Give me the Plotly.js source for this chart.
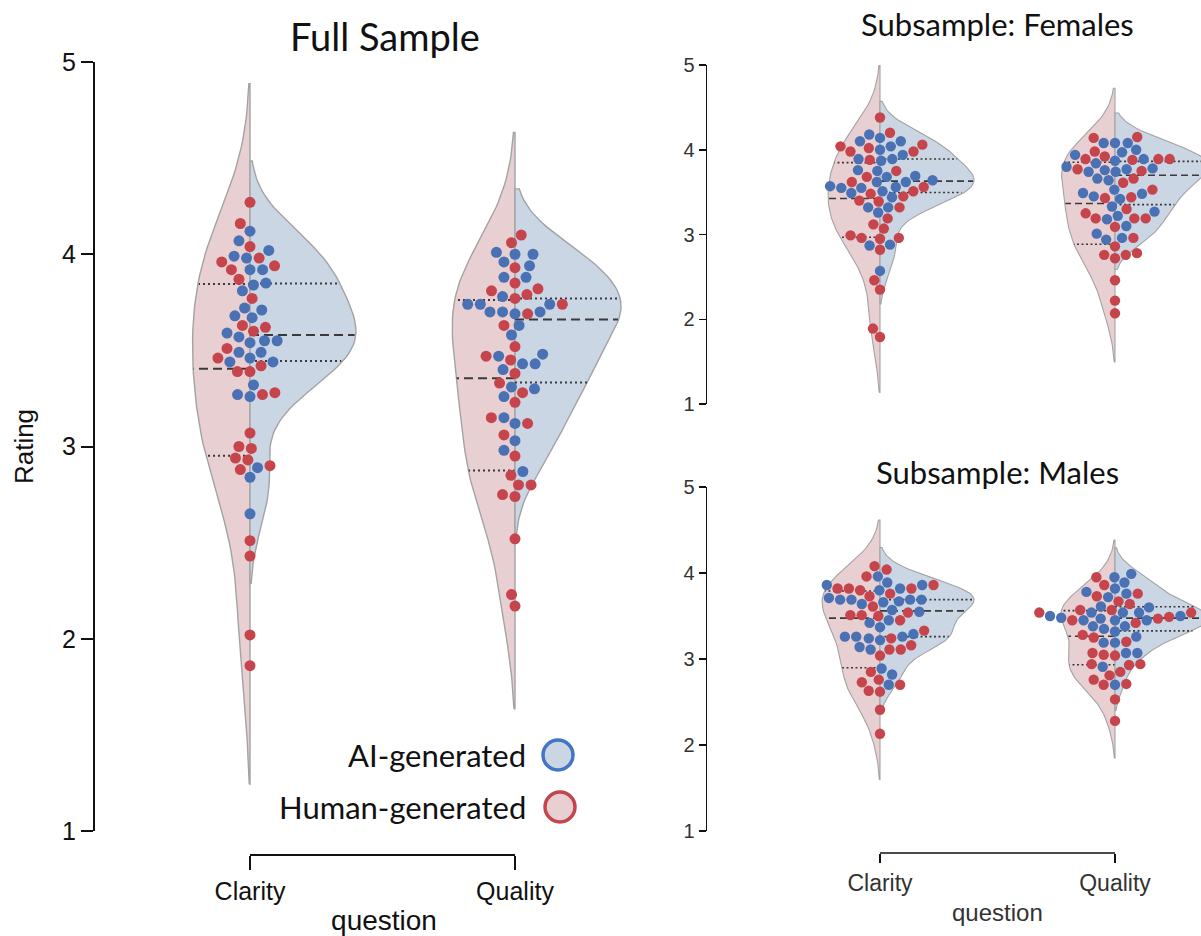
<!DOCTYPE html>
<html><head><meta charset="utf-8">
<script src="https://cdn.plot.ly/plotly-3.0.1.min.js"></script>
<style>html,body{margin:0;padding:0;background:#fff}</style>
</head><body><div id="chart" style="width:1201px;height:936px"></div>
<script>
// ---------------- DATA ----------------
const categories = ['Clarity', 'Quality'];
const hueLabels = ['AI-generated', 'Human-generated'];
const yTickVals = [1, 2, 3, 4, 5];
const panelTitles = ['Full Sample', 'Subsample: Females', 'Subsample: Males'];
const xTitle = 'question';
const yTitle = 'Rating';

// Full sample
const fullClarityAI = [4.12,4.07,4.02,3.99,3.98,3.92,3.92,3.85,3.84,3.81,3.72,3.71,3.68,3.67,3.59,3.57,3.55,3.55,3.54,3.49,3.49,3.46,3.44,3.44,3.32,3.27,3.26,2.89,2.84,2.65];
const fullClarityHuman = [4.27,4.16,4.04,3.98,3.96,3.94,3.92,3.87,3.77,3.63,3.62,3.60,3.51,3.46,3.42,3.39,3.39,3.28,3.27,3.07,3.00,2.99,2.94,2.93,2.90,2.88,2.51,2.43,2.02,1.86];
const fullQualityAI = [4.01,4.00,4.00,3.96,3.94,3.88,3.88,3.78,3.74,3.74,3.74,3.70,3.70,3.70,3.69,3.63,3.58,3.48,3.47,3.43,3.43,3.40,3.31,3.30,3.26,3.15,3.12,3.03,2.98,2.87];
const fullQualityHuman = [4.10,4.06,3.93,3.85,3.82,3.81,3.79,3.77,3.74,3.69,3.63,3.52,3.47,3.45,3.38,3.33,3.28,3.23,3.15,3.12,3.06,2.95,2.85,2.80,2.80,2.75,2.74,2.52,2.23,2.17];
// Females
const femClarityAI = [4.18,4.14,4.10,4.10,4.04,4.00,3.94,3.89,3.89,3.87,3.76,3.75,3.69,3.68,3.64,3.62,3.62,3.57,3.56,3.55,3.55,3.51,3.49,3.44,3.32,3.32,3.26,2.88,2.87,2.57];
const femClarityHuman = [4.38,4.20,4.06,4.04,4.02,3.98,3.98,3.88,3.75,3.68,3.62,3.56,3.51,3.48,3.45,3.40,3.39,3.32,3.19,3.12,3.07,2.99,2.96,2.96,2.95,2.82,2.46,2.35,1.89,1.79];
const femQualityAI = [4.08,4.08,4.08,4.00,3.97,3.94,3.89,3.87,3.84,3.80,3.78,3.77,3.76,3.74,3.74,3.66,3.64,3.53,3.49,3.48,3.45,3.42,3.33,3.27,3.22,3.18,3.10,3.01,2.96,2.94];
const femQualityHuman = [4.15,4.14,3.98,3.92,3.89,3.89,3.89,3.88,3.77,3.75,3.66,3.61,3.53,3.44,3.43,3.30,3.25,3.19,3.19,3.19,3.09,2.96,2.86,2.78,2.76,2.76,2.72,2.46,2.22,2.07];
// Males
const maleClarityAI = [3.96,3.89,3.86,3.86,3.82,3.80,3.71,3.69,3.69,3.69,3.69,3.67,3.66,3.64,3.57,3.55,3.45,3.42,3.37,3.29,3.26,3.26,3.26,3.24,3.22,3.14,3.11,2.89,2.82,2.70];
const maleClarityHuman = [4.08,4.04,3.96,3.86,3.82,3.82,3.82,3.80,3.76,3.73,3.61,3.54,3.51,3.51,3.50,3.45,3.33,3.24,3.16,3.11,3.11,3.04,2.85,2.76,2.73,2.70,2.63,2.62,2.41,2.13];
const maleQualityAI = [3.99,3.95,3.89,3.82,3.78,3.76,3.72,3.61,3.60,3.54,3.54,3.54,3.50,3.50,3.48,3.47,3.45,3.45,3.45,3.38,3.38,3.35,3.32,3.26,3.19,3.19,3.07,3.07,2.91,2.70];
const maleQualityHuman = [3.95,3.86,3.76,3.73,3.67,3.64,3.57,3.57,3.54,3.54,3.49,3.47,3.45,3.42,3.28,3.25,3.20,3.07,3.05,3.04,2.94,2.94,2.93,2.85,2.81,2.76,2.71,2.70,2.53,2.28];

// ---------------- STYLE ----------------
const COL = {
  aiPt: '#4a71b4', huPt: '#c6454d',
  aiFill: '#cbd6e4', huFill: '#e8cfd1',
  outline: '#a3a3a3', inner: '#3a3a3a',
  aiLeg: '#4474c4', huLeg: '#c3464e'
};
const W = 1201, H = 936;
const px = v => v / W;            // horizontal pixel -> paper
const py = v => (H - v) / H;      // vertical pixel -> paper
const SANS = 'Liberation Sans, Arial, sans-serif';
const TITLEF = 'Lato, "Open Sans", sans-serif';

// panel geometry (pixels)
const panels = [
  {xa:'x',  ya:'y',  data:[[fullClarityAI, fullClarityHuman],[fullQualityAI, fullQualityHuman]],
   left:95, c0:250, c1:515, right:673, top:62, bottom:831, r:6.0, msize:11, lw:1.4, qlw:2},
  {xa:'x2', ya:'y2', data:[[femClarityAI, femClarityHuman],[femQualityAI, femQualityHuman]],
   left:707, c0:880, c1:1115, right:1201, top:65, bottom:404, r:5.4, msize:10.4, lw:1.1, qlw:1.6},
  {xa:'x3', ya:'y3', data:[[maleClarityAI, maleClarityHuman],[maleQualityAI, maleQualityHuman]],
   left:707, c0:880, c1:1115, right:1201, top:487, bottom:831, r:5.4, msize:10.4, lw:1.1, qlw:1.6}
];

// ---------------- HELPERS ----------------
function kde(data, cut, grid) {
  const n = data.length;
  const mean = data.reduce((a,b)=>a+b,0)/n;
  const sd = Math.sqrt(data.reduce((a,b)=>a+(b-mean)*(b-mean),0)/(n-1));
  const bw = sd * Math.pow(n, -1/5);
  const lo = Math.min(...data) - cut*bw, hi = Math.max(...data) + cut*bw;
  const ys = [], ds = [];
  for (let i=0;i<grid;i++){
    const y = lo + (hi-lo)*i/(grid-1);
    let s = 0;
    for (const v of data) { const z=(y-v)/bw; s += Math.exp(-0.5*z*z); }
    ys.push(y); ds.push(s/(n*bw*Math.sqrt(2*Math.PI)));
  }
  return {ys, ds};
}
function percentile(data, p) {
  const s = [...data].sort((a,b)=>a-b);
  const pos = (s.length-1)*p/100, i = Math.floor(pos), f = pos - i;
  return i+1 < s.length ? s[i] + f*(s[i+1]-s[i]) : s[i];
}
function beeswarm(vals, pxPerY, r) {
  const idx = vals.map((_,i)=>i).sort((a,b)=>vals[a]-vals[b] || a-b);
  const placed = [], out = new Array(vals.length);
  const d2 = 4*r*r;
  for (const i of idx) {
    const y = vals[i]*pxPerY;
    const nb = [];
    for (let k=placed.length-1;k>=0;k--) { if (y - placed[k].y < 2*r) nb.push(placed[k]); else break; }
    const cands = [0]; let leftFirst = true;
    for (const p of nb) {
      const dy = y - p.y;
      const dx = Math.sqrt(Math.max(d2 - dy*dy, 0))*1.05;
      if (leftFirst) cands.push(p.x-dx, p.x+dx); else cands.push(p.x+dx, p.x-dx);
      leftFirst = !leftFirst;
    }
    const order = cands.map((c,j)=>[Math.abs(c), j, c]).sort((a,b)=>a[0]-b[0] || a[1]-b[1]);
    let chosen = order[0][2];
    if (nb.length) {
      for (const o of order) {
        const c = o[2];
        if (nb.every(p => (p.x-c)*(p.x-c)+(p.y-y)*(p.y-y) >= d2 - 1e-6)) { chosen = c; break; }
      }
    }
    placed.push({x:chosen, y}); out[i] = chosen;
  }
  return out;
}

// ---------------- TRACES ----------------
const traces = [], shapes = [], annotations = [];
const layout = {
  width: W, height: H, margin:{l:0,r:0,t:0,b:0},
  paper_bgcolor:'#fff', plot_bgcolor:'rgba(0,0,0,0)', showlegend:false
};

panels.forEach((P, pi) => {
  const pxPerCat = P.c1 - P.c0;
  const pxPerY = (P.bottom - P.top)/4;
  const xr = [(P.left - P.c0)/pxPerCat, (P.right - P.c0)/pxPerCat];
  const sfx = pi === 0 ? '' : String(pi+1);
  layout['xaxis'+sfx] = {
    domain:[px(P.left), px(P.right)], range:xr, anchor: P.ya,
    showgrid:false, zeroline:false, showline:false, ticks:'', showticklabels:false, fixedrange:true
  };
  layout['yaxis'+sfx] = {
    domain:[py(P.bottom), py(P.top)], range:[1,5], anchor: P.xa,
    showgrid:false, zeroline:false, showline:true, linecolor:'#111', linewidth: pi===0?2:1.5,
    ticks:'outside', ticklen: pi===0?12:7, tickwidth: pi===0?2:1.5, tickcolor:'#111',
    tickvals: yTickVals, ticktext: yTickVals.map(String),
    tickfont:{family:SANS, size: pi===0?25:20, color: pi===0?'#111':'#333'},
    fixedrange:true
  };

  P.data.forEach((pair, ci) => {
    const [ai, hu] = pair;
    const kA = kde(ai, 2, 100), kH = kde(hu, 2, 100);
    const maxd = Math.max(...kA.ds, ...kH.ds);
    // violins: human left (negative), AI right (positive)
    [[kH, -1, COL.huFill, hu], [kA, 1, COL.aiFill, ai]].forEach(([k, s, fill, vals]) => {
      const xs = k.ds.map(d => ci + s*0.4*d/maxd);
      const ys = k.ys.slice();
      xs.push(ci, ci, xs[0]); ys.push(k.ys[k.ys.length-1], k.ys[0], k.ys[0]);
      traces.push({type:'scatter', mode:'lines', x:xs, y:ys, xaxis:P.xa, yaxis:P.ya,
        fill:'toself', fillcolor:fill, line:{color:COL.outline, width:P.lw}, hoverinfo:'skip'});
      // quartile lines
      const q = [25,50,75].map(p => percentile(vals, p));
      q.forEach((qv, qi) => {
        let best = 0; for (let i=1;i<k.ys.length;i++) if (Math.abs(k.ys[i]-qv) < Math.abs(k.ys[best]-qv)) best = i;
        const w = 0.4*k.ds[best]/maxd*0.99;
        traces.push({type:'scatter', mode:'lines', x:[ci, ci + s*w], y:[qv, qv], xaxis:P.xa, yaxis:P.ya,
          line:{color:COL.inner, width:P.qlw, dash: qi===1 ? (pi===0?'9px,5px':'7px,4px') : (pi===0?'2px,3px':'2px,2.5px')},
          hoverinfo:'skip'});
      });
    });
    // swarm (both hues together)
    const allVals = ai.concat(hu);
    const offs = beeswarm(allVals, pxPerY, P.r);
    const xAI = ai.map((_,i) => ci + offs[i]/pxPerCat);
    const xHU = hu.map((_,i) => ci + offs[ai.length+i]/pxPerCat);
    traces.push({type:'scatter', mode:'markers', name:hueLabels[0], x:xAI, y:ai, xaxis:P.xa, yaxis:P.ya,
      marker:{color:COL.aiPt, size:P.msize, line:{width:0}}});
    traces.push({type:'scatter', mode:'markers', name:hueLabels[1], x:xHU, y:hu, xaxis:P.xa, yaxis:P.ya,
      marker:{color:COL.huPt, size:P.msize, line:{width:0}}});
  });
});

// category axes (trimmed, offset) for left and bottom-right panels
const lineY0 = 855, lineY2 = 853;
Object.assign(layout.xaxis, {anchor:'free', position: py(lineY0), showticklabels:true, tickvals:[0,1], ticktext:categories,
  ticks:'outside', ticklen:14, tickwidth:2, tickcolor:'#111',
  tickfont:{family:SANS, size:25, color:'#111'},
  title:{text:xTitle, standoff:8, font:{family:SANS, size:28, color:'#111'}}});
layout.yaxis.title = {text:yTitle, standoff:21, font:{family:SANS, size:26, color:'#111'}};
Object.assign(layout.xaxis3, {anchor:'free', position: py(lineY2), showticklabels:true, tickvals:[0,1], ticktext:categories,
  ticks:'outside', ticklen:9, tickwidth:1.5, tickcolor:'#111',
  tickfont:{family:SANS, size:23, color:'#333'}});
annotations.push({text:xTitle, xref:'paper', yref:'paper', x:px(997), y:py(912), xanchor:'center', yanchor:'middle', showarrow:false,
  font:{family:SANS, size:24, color:'#333'}});
shapes.push({type:'line', xref:'x', yref:'paper', x0:0, x1:1, y0:py(lineY0), y1:py(lineY0), line:{color:'#111', width:2}});
shapes.push({type:'line', xref:'x3', yref:'paper', x0:0, x1:1, y0:py(lineY2), y1:py(lineY2), line:{color:'#111', width:1.5}});

// titles
annotations.push({text:panelTitles[0], xref:'paper', yref:'paper', x:px(385), y:py(36), xanchor:'center', yanchor:'middle', showarrow:false, font:{family:TITLEF, size:38, color:'#111'}});
annotations.push({text:panelTitles[1], xref:'paper', yref:'paper', x:px(997), y:py(24), xanchor:'center', yanchor:'middle', showarrow:false, font:{family:TITLEF, size:31, color:'#111'}});
annotations.push({text:panelTitles[2], xref:'paper', yref:'paper', x:px(997), y:py(472), xanchor:'center', yanchor:'middle', showarrow:false, font:{family:TITLEF, size:31, color:'#111'}});

// custom legend (text left of marker)
const legItems = [
  {label:hueLabels[0], y:755, cx:558, fill:COL.aiFill, line:COL.aiLeg},
  {label:hueLabels[1], y:807, cx:560, fill:COL.huFill, line:COL.huLeg}
];
legItems.forEach(it => {
  annotations.push({text:it.label, xref:'paper', yref:'paper', x:px(528), y:py(it.y), xanchor:'right', yanchor:'middle', showarrow:false,
    font:{family:TITLEF, size:31, color:'#111'}});
  shapes.push({type:'circle', xref:'paper', yref:'paper', x0:px(it.cx-15), x1:px(it.cx+15), y0:py(it.y+15), y1:py(it.y-15),
    fillcolor:it.fill, line:{color:it.line, width:3.5}});
});

layout.shapes = shapes;
layout.annotations = annotations;
Plotly.newPlot('chart', traces, layout, {staticPlot:true, displayModeBar:false});
</script>
</body></html>
